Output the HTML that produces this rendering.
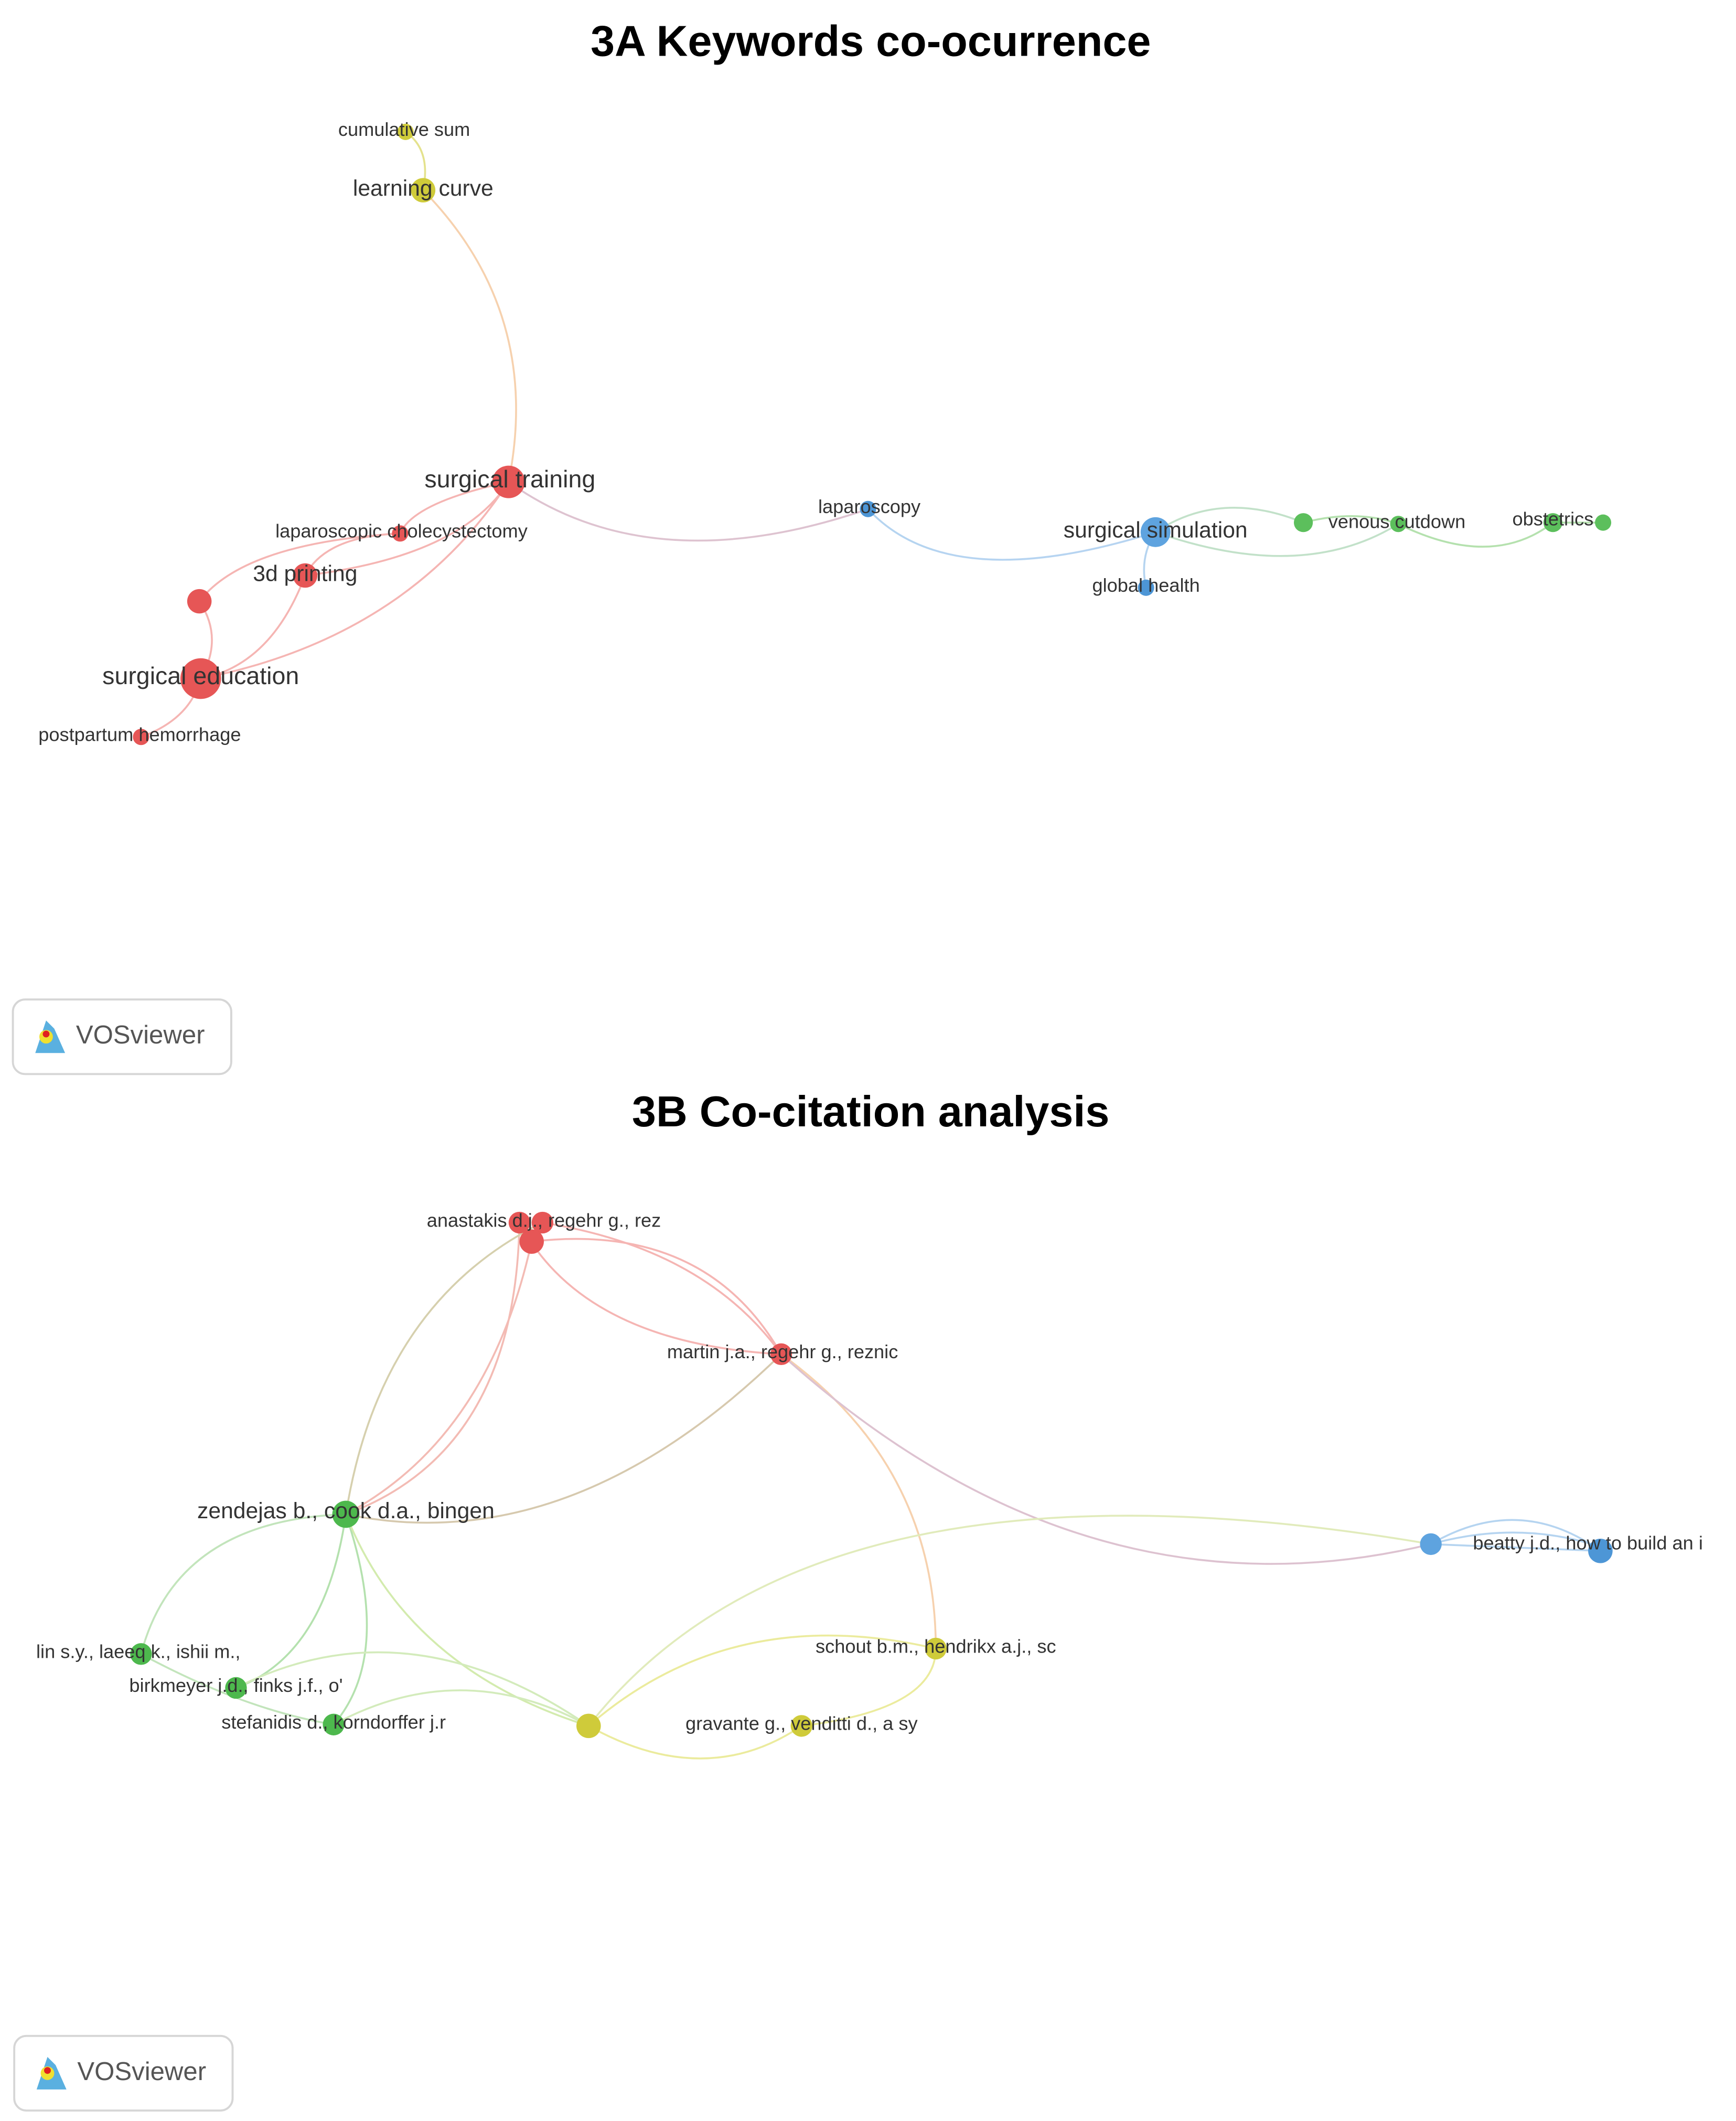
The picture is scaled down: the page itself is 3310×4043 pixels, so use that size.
<!DOCTYPE html>
<html><head><meta charset="utf-8"><style>
html,body{margin:0;padding:0;background:#fff;}
svg{display:block;}
text{font-family:"Liberation Sans",sans-serif;}
.l{font-size:14px;fill:#333;text-anchor:middle;}
.m{font-size:16.5px;fill:#333;text-anchor:middle;}
.b{font-size:18px;fill:#333;text-anchor:middle;}
.e{fill:none;stroke-width:1.4;opacity:0.85;}
</style></head><body>
<svg width="3310" height="4043" viewBox="0 0 1280 1563" xmlns="http://www.w3.org/2000/svg">
<rect width="1280" height="1563" fill="#fff"/>
<text x="642" y="41" style="font-size:32px;font-weight:bold;fill:#000;text-anchor:middle">3A Keywords co-ocurrence</text>
<g class="e">
<path d="M299 97 Q318 110 312 140" stroke="#e0dd7a"/>
<path d="M312 140 Q400 230 375 355" stroke="#f5c9a0"/>
<path d="M375 355 Q305 370 295 393" stroke="#f4a9a6"/>
<path d="M375 355 Q340 410 225 424" stroke="#f4a9a6"/>
<path d="M375 355 Q300 470 148 500" stroke="#f4a9a6"/>
<path d="M295 393 Q240 395 225 424" stroke="#f4a9a6"/>
<path d="M225 424 Q200 490 148 500" stroke="#f4a9a6"/>
<path d="M147 443 Q180 400 295 393" stroke="#f4a9a6"/>
<path d="M147 443 Q165 470 148 500" stroke="#f4a9a6"/>
<path d="M148 500 Q140 530 104 543" stroke="#f4a9a6"/>
<path d="M375 355 Q480 430 640 375" stroke="#d8b8c8"/>
<path d="M640 375 Q700 440 852 392" stroke="#a9cdee"/>
<path d="M852 392 Q840 410 845 433" stroke="#a9cdee"/>
<path d="M852 392 Q900 360 961 385" stroke="#b8dcc0"/>
<path d="M852 392 Q960 430 1031 386" stroke="#b8dcc0"/>
<path d="M1031 386 Q1100 420 1145 385" stroke="#a8dca0"/>
<path d="M961 385 Q1000 375 1031 386" stroke="#a8dca0"/>
<path d="M1145 385 L1182 385" stroke="#a8dca0"/>
</g>
<g>
<circle cx="299" cy="97" r="6" fill="#cfcb3a"/>
<circle cx="312" cy="140" r="9" fill="#cfcb3a"/>
<circle cx="375" cy="355" r="12" fill="#e65656"/>
<circle cx="295" cy="393" r="6" fill="#e65656"/>
<circle cx="225" cy="424" r="9" fill="#e65656"/>
<circle cx="147" cy="443" r="9" fill="#e65656"/>
<circle cx="148" cy="500" r="15" fill="#e65656"/>
<circle cx="104" cy="543" r="6" fill="#e65656"/>
<circle cx="640" cy="375" r="6" fill="#4d96d6"/>
<circle cx="852" cy="392" r="11" fill="#5ea3df"/>
<circle cx="845" cy="433" r="6" fill="#4d96d6"/>
<circle cx="961" cy="385" r="7" fill="#5cbf5c"/>
<circle cx="1031" cy="386" r="6" fill="#5cbf5c"/>
<circle cx="1145" cy="385" r="7" fill="#5cbf5c"/>
<circle cx="1182" cy="385" r="6" fill="#5cbf5c"/>
</g>
<text class="l" x="298" y="100">cumulative sum</text>
<text class="m" x="312" y="144">learning curve</text>
<text class="b" x="376" y="359">surgical training</text>
<text class="l" x="296" y="396">laparoscopic cholecystectomy</text>
<text class="m" x="225" y="428">3d printing</text>
<text class="b" x="148" y="504">surgical education</text>
<text class="l" x="103" y="546">postpartum hemorrhage</text>
<text class="l" x="641" y="378">laparoscopy</text>
<text class="m" x="852" y="396">surgical simulation</text>
<text class="l" x="845" y="436">global health</text>
<text class="l" x="1030" y="389">venous cutdown</text>
<text class="l" x="1145" y="387">obstetrics</text>
<rect x="9.5" y="736.5" width="161" height="55" rx="9" fill="#fff" stroke="#d6d6d6" stroke-width="1.5"/>
<path d="M26 776 L34 752 L40 758 L48 776 Z" fill="#5ab0e0"/>
<circle cx="34" cy="764" r="5" fill="#f0e030"/><circle cx="34" cy="762" r="2.5" fill="#e02020"/>
<text x="56" y="769" style="font-size:19px;fill:#555">VOSviewer</text>

<text x="642" y="830" style="font-size:32px;font-weight:bold;fill:#000;text-anchor:middle">3B Co-citation analysis</text>
<g class="e">
<path d="M392 915 Q360 1060 255 1116" stroke="#f2b0a8"/>
<path d="M383 901 Q380 1070 255 1116" stroke="#f2b0a8"/>
<path d="M400 901 Q280 960 255 1116" stroke="#d0c8a0"/>
<path d="M383 901 Q430 990 576 998" stroke="#f4a9a6"/>
<path d="M400 901 Q520 920 576 998" stroke="#f4a9a6"/>
<path d="M392 915 Q520 900 576 998" stroke="#f4a9a6"/>
<path d="M576 998 Q420 1150 255 1116" stroke="#d0c0a0"/>
<path d="M576 998 Q690 1080 690 1215" stroke="#f5c9a0"/>
<path d="M576 998 Q800 1200 1055 1138" stroke="#d8b8c8"/>
<path d="M434 1272 Q600 1060 1055 1138" stroke="#dce8b0"/>
<path d="M1055 1138 Q1120 1100 1180 1143" stroke="#a9cdee"/>
<path d="M1055 1138 Q1120 1120 1180 1140" stroke="#a9cdee"/>
<path d="M1055 1138 L1180 1143" stroke="#a9cdee"/>
<path d="M255 1116 Q130 1120 104 1219" stroke="#b8e0b0"/>
<path d="M255 1116 Q240 1220 174 1244" stroke="#a8dca0"/>
<path d="M255 1116 Q290 1220 246 1271" stroke="#a8dca0"/>
<path d="M255 1116 Q300 1230 434 1272" stroke="#cce8a0"/>
<path d="M104 1219 Q180 1260 246 1271" stroke="#b8e0b0"/>
<path d="M174 1244 Q300 1180 434 1272" stroke="#cce8b0"/>
<path d="M246 1271 Q340 1220 434 1272" stroke="#cce8b0"/>
<path d="M434 1272 Q540 1180 690 1215" stroke="#e8e88c"/>
<path d="M434 1272 Q520 1320 591 1272" stroke="#e8e88c"/>
<path d="M591 1272 Q690 1260 690 1215" stroke="#e8e88c"/>
</g>
<g>
<circle cx="383" cy="901" r="8" fill="#e65656"/>
<circle cx="400" cy="901" r="8" fill="#e65656"/>
<circle cx="392" cy="915" r="9" fill="#e65656"/>
<circle cx="576" cy="998" r="8" fill="#e65656"/>
<circle cx="255" cy="1116" r="10" fill="#4db84d"/>
<circle cx="104" cy="1219" r="8" fill="#4db84d"/>
<circle cx="174" cy="1244" r="8" fill="#4db84d"/>
<circle cx="246" cy="1271" r="8" fill="#4db84d"/>
<circle cx="434" cy="1272" r="9" fill="#cfcb3a"/>
<circle cx="690" cy="1215" r="8" fill="#cfcb3a"/>
<circle cx="591" cy="1272" r="8" fill="#cfcb3a"/>
<circle cx="1055" cy="1138" r="8" fill="#5ea3df"/>
<circle cx="1180" cy="1143" r="9" fill="#4d96d6"/>
</g>
<text class="l" x="401" y="904">anastakis d.j., regehr g., rez</text>
<text class="l" x="577" y="1001">martin j.a., regehr g., reznic</text>
<text class="m" x="255" y="1119">zendejas b., cook d.a., bingen</text>
<text class="l" x="102" y="1222">lin s.y., laeeq k., ishii m.,</text>
<text class="l" x="174" y="1247">birkmeyer j.d., finks j.f., o'</text>
<text class="l" x="246" y="1274">stefanidis d., korndorffer j.r</text>
<text class="l" x="690" y="1218">schout b.m., hendrikx a.j., sc</text>
<text class="l" x="591" y="1275">gravante g., venditti d., a sy</text>
<text x="1086" y="1142" style="font-size:14px;fill:#333">beatty j.d., how to build an i</text>
<rect x="10.5" y="1500.5" width="161" height="55" rx="9" fill="#fff" stroke="#d6d6d6" stroke-width="1.5"/>
<path d="M27 1540 L35 1516 L41 1522 L49 1540 Z" fill="#5ab0e0"/>
<circle cx="35" cy="1528" r="5" fill="#f0e030"/><circle cx="35" cy="1526" r="2.5" fill="#e02020"/>
<text x="57" y="1533" style="font-size:19px;fill:#555">VOSviewer</text>
</svg>
</body></html>
